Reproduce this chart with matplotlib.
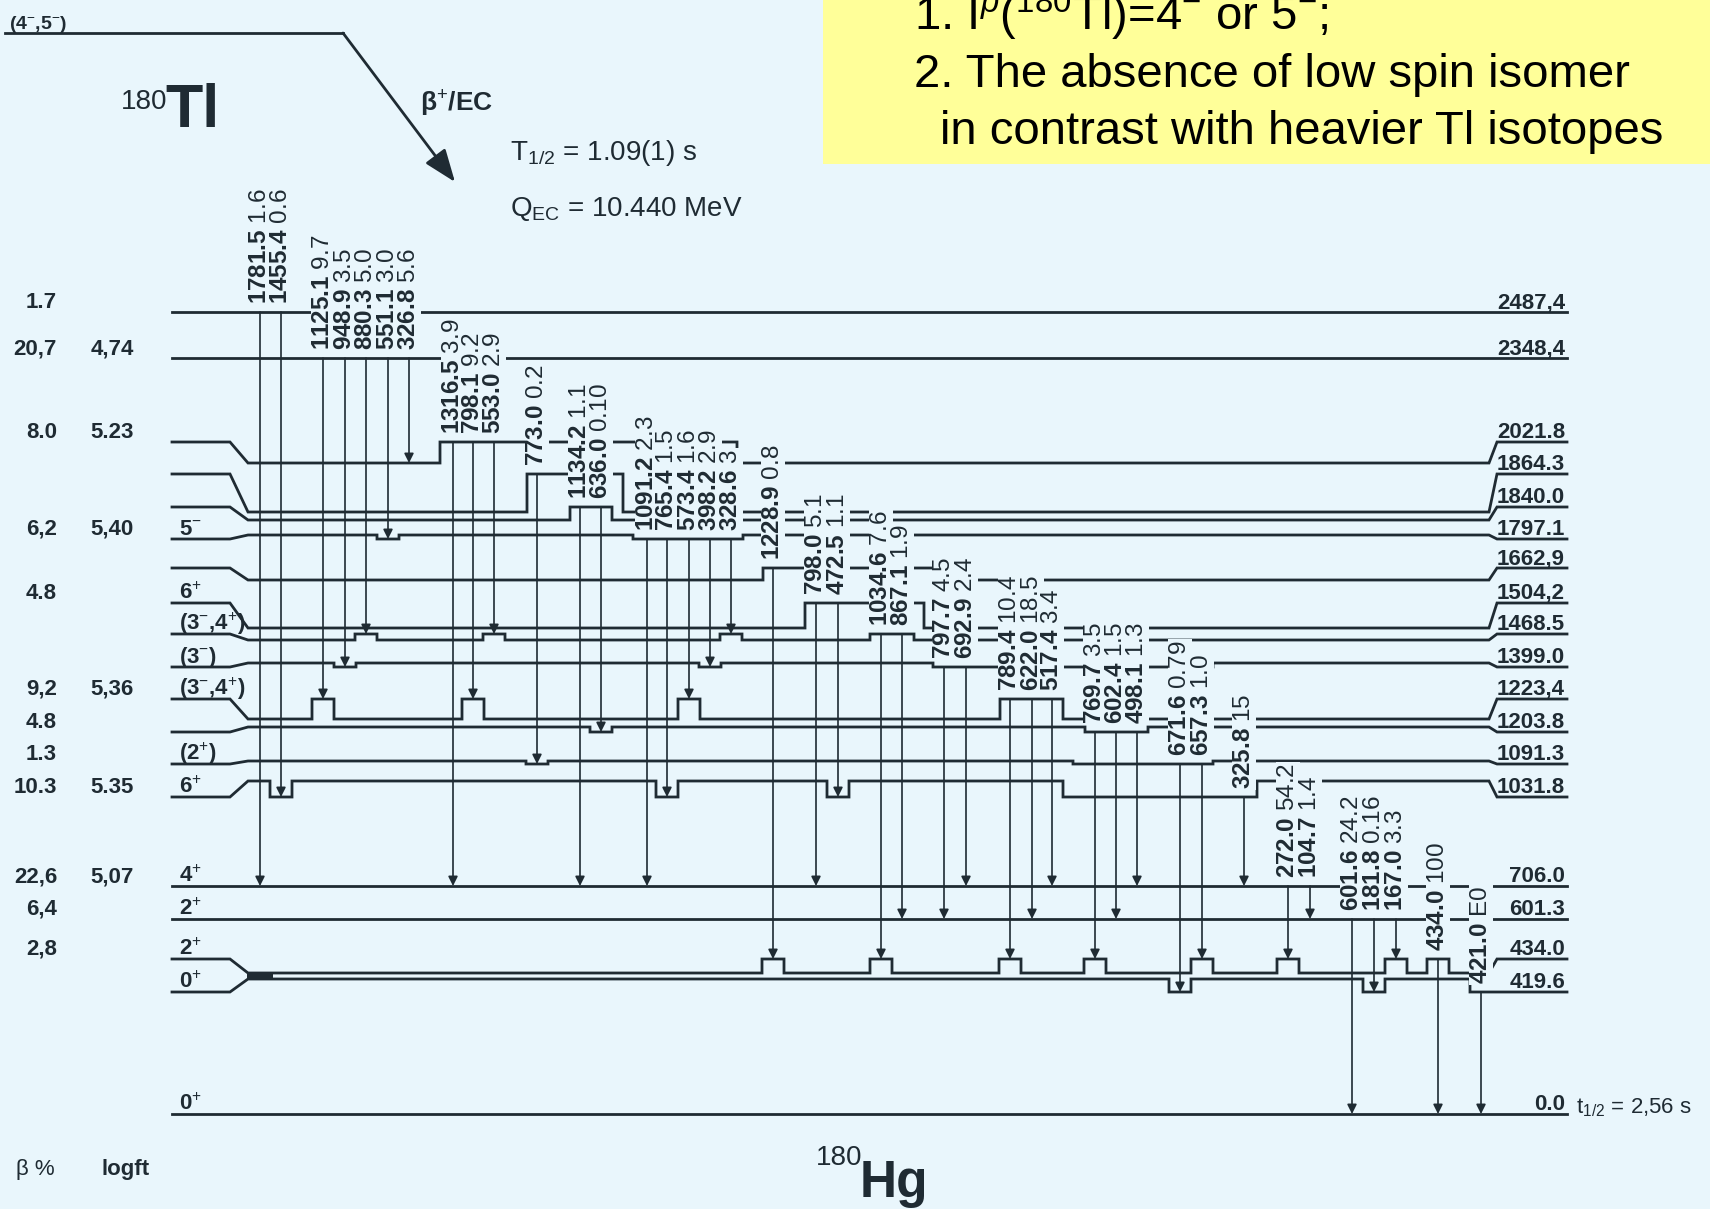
import matplotlib.pyplot as plt
from matplotlib.patches import Rectangle

BG = '#e9f6fc'
INK = '#1f2b33'

plt.rcParams['font.family'] = ['Liberation Sans', 'DejaVu Sans']
plt.rcParams['mathtext.fontset'] = 'custom'
plt.rcParams['mathtext.rm'] = 'Liberation Sans'
plt.rcParams['mathtext.it'] = 'Liberation Sans:italic'
plt.rcParams['mathtext.bf'] = 'Liberation Sans:bold'

# ---- 180Hg levels fed in the decay of 180Tl ----
level_energy = ['2487,4', '2348,4', '2021.8', '1864.3', '1840.0', '1797.1', '1662,9',
                '1504,2', '1468.5', '1399.0', '1223,4', '1203.8', '1091.3', '1031.8',
                '706.0', '601.3', '434.0', '419.6', '0.0']
level_spin = ['', '', '', '', '', '5$^{-}$', '', '6$^{+}$', '(3$^{-}$,4$^{+}$)', '(3$^{-}$)',
              '(3$^{-}$,4$^{+}$)', '', '(2$^{+}$)', '6$^{+}$', '4$^{+}$', '2$^{+}$', '2$^{+}$',
              '0$^{+}$', '0$^{+}$']
beta_pct = ['1.7', '20,7', '8.0', '', '', '6,2', '', '4.8', '', '', '9,2', '4.8', '1.3',
            '10.3', '22,6', '6,4', '2,8', '', '']
log_ft = ['', '4,74', '5.23', '', '', '5,40', '', '', '', '', '5,36', '', '', '5.35',
          '5,07', '', '', '', '']

# ---- gamma transitions: energy, intensity, initial level, final level ----
gamma_e = ['1781.5', '1455.4', '1125.1', '948.9', '880.3', '551.1', '326.8',
           '1316.5', '798.1', '553.0', '773.0', '1134.2', '636.0',
           '1091.2', '765.4', '573.4', '398.2', '328.6', '1228.9', '798.0', '472.5',
           '1034.6', '867.1', '797.7', '692.9', '789.4', '622.0', '517.4',
           '769.7', '602.4', '498.1', '671.6', '657.3', '325.8', '272.0', '104.7',
           '601.6', '181.8', '167.0', '434.0', '421.0']
gamma_i = ['1.6', '0.6', '9.7', '3.5', '5.0', '3.0', '5.6',
           '3.9', '9.2', '2.9', '0.2', '1.1', '0.10',
           '2.3', '1.5', '1.6', '2.9', '3', '0.8', '5.1', '1.1',
           '7.6', '1.9', '4.5', '2.4', '10.4', '18.5', '3.4',
           '3.5', '1.5', '1.3', '0.79', '1.0', '15', '54.2', '1.4',
           '24.2', '0.16', '3.3', '100', 'E0']
gamma_from = [0, 0, 1, 1, 1, 1, 1, 2, 2, 2, 3, 4, 4, 5, 5, 5, 5, 5, 6, 7, 7,
              8, 8, 9, 9, 10, 10, 10, 11, 11, 11, 12, 12, 13, 14, 14, 15, 15, 15, 16, 17]
gamma_to = [14, 13, 10, 9, 8, 5, 2, 14, 10, 8, 12, 14, 11, 14, 13, 10, 9, 8, 16, 14, 13,
            16, 15, 15, 14, 16, 15, 14, 16, 15, 14, 17, 16, 14, 16, 15, 18, 17, 16, 18, 18]

# ---- drawing layout (pixel units) ----
level_row_y = [312, 358, 442, 474, 507, 539, 568, 603, 634, 667, 699, 732, 764, 797,
               886, 919, 959, 992, 1114]
level_mid_y = [312, 358, 463, 512, 520, 535, 580, 628, 640, 663, 719, 727, 761, 781,
               886, 919, 973, 979, 1114]
level_row_segs = [[], [], [(440, 737)], [(527, 623)], [(570, 612)], [(633, 743)],
                  [(763, 945)], [(805, 924)], [(870, 914)], [(933, 1213)], [(1000, 1063)],
                  [(1085, 1148)], [(1073, 1213)], [(1063, 1257)], [], [], [], [], []]
gamma_x = [260, 281, 323, 345, 366, 388, 409, 453, 473, 494, 537, 580, 601,
           647, 667, 689, 710, 731, 773, 816, 838, 881, 902, 944, 966, 1010, 1032, 1052,
           1095, 1116, 1137, 1180, 1202, 1244, 1288, 1310, 1352, 1374, 1396, 1438, 1481]
plain_end = {6}

X_LEFT, X_BEND0, X_BEND1 = 172, 230, 248
X_RBEND0, X_RBEND1, X_RIGHT = 1489, 1497, 1567
NOTCH = 11

fig = plt.figure(figsize=(17.1, 12.09), dpi=100, facecolor=BG)
ax = fig.add_axes([0, 0, 1, 1])
ax.set_xlim(0, 1710)
ax.set_ylim(1209, 0)
ax.axis('off')
ax.set_facecolor(BG)

# notches where a transition ends (or starts) away from the label row
segs = [list(s) for s in level_row_segs]
for k in range(len(gamma_e)):
    x = gamma_x[k]
    ends = [gamma_from[k]] if k in plain_end else [gamma_from[k], gamma_to[k]]
    for lev in ends:
        if level_row_y[lev] != level_mid_y[lev] and not any(a <= x <= b for a, b in segs[lev]):
            segs[lev].append((x - NOTCH, x + NOTCH))


def line_path(lev):
    row, mid = level_row_y[lev], level_mid_y[lev]
    xs, ys = [X_LEFT, X_BEND0, X_BEND1], [row, row, mid]
    for a, b in sorted(segs[lev]):
        if b >= X_RBEND0:
            xs += [a, a, X_RIGHT]
            ys += [mid, row, row]
            return xs, ys
        xs += [a, a, b, b]
        ys += [mid, row, row, mid]
    xs += [X_RBEND0, X_RBEND1, X_RIGHT]
    ys += [mid, row, row]
    return xs, ys


def y_at(lev, x):
    for a, b in segs[lev]:
        if a <= x <= b:
            return level_row_y[lev]
    return level_mid_y[lev]


# level lines and their labels
for i in range(len(level_energy)):
    xs, ys = line_path(i)
    ax.plot(xs, ys, color=INK, lw=2.0, solid_joinstyle='miter', zorder=2)
    row = level_row_y[i]
    ax.text(1565, row - 4, level_energy[i], ha='right', va='baseline', fontsize=16,
            fontweight='bold', color=INK)
    if level_spin[i]:
        ax.text(179, row - 4, level_spin[i], ha='left', va='baseline', fontsize=16,
                fontweight='bold', color=INK)
    if beta_pct[i]:
        ax.text(57, row - 4, beta_pct[i], ha='right', va='baseline', fontsize=16,
                fontweight='bold', color=INK)
    if log_ft[i]:
        ax.text(134, row - 4, log_ft[i], ha='right', va='baseline', fontsize=16,
                fontweight='bold', color=INK)

# the two 0+ / 2+ lines joined at the left end
ax.add_patch(Rectangle((247, 972), 26, 7, fc=INK, ec='none', zorder=2))

# gamma arrows with rotated energy / intensity labels
for k in range(len(gamma_e)):
    x = gamma_x[k]
    y0 = y_at(gamma_from[k], x)
    y1 = y_at(gamma_to[k], x)
    ax.annotate('', xy=(x, y1), xytext=(x, y0),
                arrowprops=dict(arrowstyle='-|>', color=INK, lw=1.2, mutation_scale=14,
                                shrinkA=0, shrinkB=0), zorder=3)
    ax.text(x, y0 - 8, r'$\mathbf{%s}$ %s' % (gamma_e[k], gamma_i[k]), rotation=90,
            ha='center', va='bottom', fontsize=17.5, color=INK, zorder=5,
            bbox=dict(boxstyle='square,pad=0.05', fc=BG, ec='none'))

# parent state and the beta+/EC branch
ax.plot([5, 343], [33, 33], color=INK, lw=2.0)
ax.annotate('', xy=(455, 182), xytext=(343, 33),
            arrowprops=dict(arrowstyle='-|>,head_length=1.0,head_width=0.38',
                            mutation_scale=20, color=INK, lw=2.0, shrinkA=0, shrinkB=0))
ax.text(9, 29, '(4$^{-}$,5$^{-}$)', fontsize=14, fontweight='bold', va='baseline', color=INK)
ax.text(167, 109, '180', fontsize=20, ha='right', va='baseline', color=INK)
ax.text(165, 127, 'Tl', fontsize=44, fontweight='bold', ha='left', va='baseline', color=INK)
ax.text(420, 104, 'β$^{+}$/EC', fontsize=19, fontweight='bold', va='center', color=INK)
ax.text(510, 153, 'T$_{1/2}$ = 1.09(1) s', fontsize=20, va='center', color=INK)
ax.text(510, 209, r'Q$_{\mathrm{EC}}$ = 10.440 MeV', fontsize=20, va='center', color=INK)

# daughter
ax.text(862, 1165, '180', fontsize=20, ha='right', va='baseline', color=INK)
ax.text(860, 1197, 'Hg', fontsize=37, fontweight='bold', ha='left', va='baseline', color=INK)
ax.text(1576, 1108, 't$_{1/2}$ = 2,56 s', fontsize=16, va='center', color=INK)
ax.text(16, 1169, 'β %', fontsize=16, va='center', color=INK)
ax.text(101, 1169, 'logft', fontsize=16, fontweight='bold', va='center', color=INK)

# note box
ax.add_patch(Rectangle((823, -5), 900, 169, fc='#ffff99', ec='none', zorder=1))
ax.text(914, 30, '1. I$^{p}$($^{180}$Tl)=4$^{-}$ or 5$^{-}$;', fontsize=34, va='baseline',
        color='black', zorder=2)
ax.text(914, 87, '2. The absence of low spin isomer', fontsize=34, va='baseline',
        color='black', zorder=2)
ax.text(940, 144, 'in contrast with heavier Tl isotopes', fontsize=34, va='baseline',
        color='black', zorder=2)

fig.savefig('out.png', dpi=100, facecolor=BG)
